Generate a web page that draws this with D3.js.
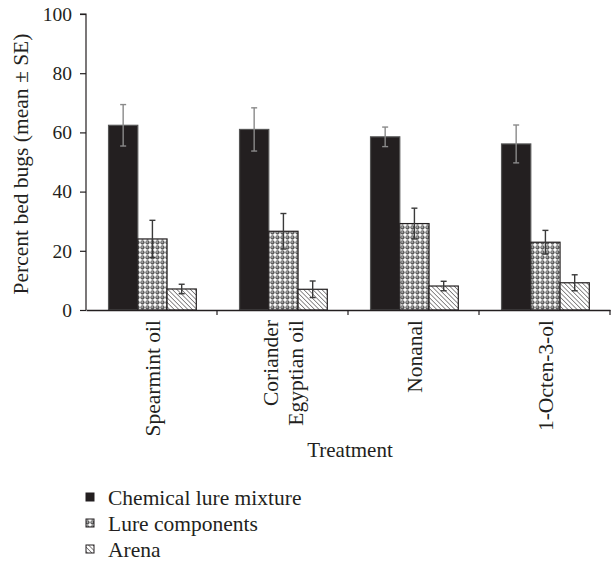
<!DOCTYPE html>
<html><head><meta charset="utf-8">
<script src="https://cdn.jsdelivr.net/npm/d3@7"></script>
<style>body{margin:0;background:#fff}svg{display:block}text{font-family:"Liberation Serif","Times New Roman",serif;fill:#231f20}</style>
</head><body><svg id="c" width="613" height="567"></svg>
<script>
const categories = ["Spearmint oil", "Coriander\nEgyptian oil", "Nonanal", "1-Octen-3-ol"];
const seriesNames = ["Chemical lure mixture", "Lure components", "Arena"];
const mixture = [62.4, 61.0, 58.5, 56.1];
const mixtureSE = [7.0, 7.3, 3.3, 6.4];
const components = [24.0, 26.6, 29.2, 22.9];
const componentsSE = [6.3, 6.0, 5.2, 4.0];
const arena = [7.1, 7.0, 8.1, 9.2];
const arenaSE = [1.6, 2.8, 1.6, 2.7];
const yTicks = [0, 20, 40, 60, 80, 100];

const svg = d3.select("#c");
const defs = svg.append("defs");
const dots = defs.append("pattern").attr("id","dots").attr("patternUnits","userSpaceOnUse").attr("width",5).attr("height",5);
dots.append("rect").attr("width",5).attr("height",5).attr("fill","#fff");
dots.append("circle").attr("cx",2.5).attr("cy",2.5).attr("r",2.15).attr("fill","#5e5e5e");
dots.append("circle").attr("cx",2.1).attr("cy",2.1).attr("r",0.8).attr("fill","#cfcfcf");
const hatch = defs.append("pattern").attr("id","hatch").attr("patternUnits","userSpaceOnUse").attr("width",3.2).attr("height",3.2).attr("patternTransform","rotate(-45)");
hatch.append("rect").attr("width",3.2).attr("height",3.2).attr("fill","#fff");
hatch.append("line").attr("x1",0).attr("y1",0).attr("x2",0).attr("y2",3.2).attr("stroke","#231f20").attr("stroke-width",1);

const fills = ["#231f20","url(#dots)","url(#hatch)"];
const strokes = ["#555","#231f20","#231f20"];
const errColors = ["#8a8a8a","#3a3a3a","#3a3a3a"];
const values = [mixture, components, arena];
const errs = [mixtureSE, componentsSE, arenaSE];

const L = 86, R = 610, T = 14, B = 310;
const x = d3.scaleBand().domain(categories).range([L, R]).padding(0);
const bw = x.bandwidth();
const xs = d3.scaleBand().domain(seriesNames).range([bw*0.172, bw*0.842]).padding(0);
const y = d3.scaleLinear().domain([0,100]).range([B, T]);

seriesNames.forEach((s, si) => {
  const g = svg.append("g");
  categories.forEach((c, ci) => {
    const v = values[si][ci];
    g.append("rect").attr("x", x(c)+xs(s)).attr("y", y(v)).attr("width", xs.bandwidth()).attr("height", y(0)-y(v))
      .attr("fill", fills[si]).attr("stroke", strokes[si]).attr("stroke-width", 1.2);
  });
});
seriesNames.forEach((s, si) => {
  categories.forEach((c, ci) => {
    const v = values[si][ci], e = errs[si][ci];
    const cx = x(c)+xs(s)+xs.bandwidth()/2;
    const g = svg.append("g").attr("stroke", errColors[si]).attr("stroke-width", 1.4);
    g.append("line").attr("x1",cx).attr("x2",cx).attr("y1",y(v+e)).attr("y2",y(v-e));
    g.append("line").attr("x1",cx-3).attr("x2",cx+3).attr("y1",y(v+e)).attr("y2",y(v+e));
    g.append("line").attr("x1",cx-3).attr("x2",cx+3).attr("y1",y(v-e)).attr("y2",y(v-e));
  });
});

const ya = svg.append("g").attr("transform",`translate(${L},0)`)
  .call(d3.axisLeft(y).tickValues(yTicks).tickSize(6).tickPadding(8));
ya.select(".domain").attr("stroke","#231f20").attr("stroke-width",1.2).attr("d",`M-6,${T}H0V${B}`);
ya.selectAll(".tick line").attr("stroke","#231f20").attr("stroke-width",1.2);
ya.selectAll(".tick text").style("font-size","19.5px").attr("fill","#231f20").style("font-family",'"Liberation Serif",serif');

const xa = svg.append("g").attr("transform",`translate(0,${B})`)
  .call(d3.axisBottom(x).tickValues([]).tickSizeOuter(0));
xa.select(".domain").attr("stroke","#231f20").attr("stroke-width",1.4);
const bounds = categories.map(c => x(c)+bw);
xa.selectAll(".bt").data(bounds).enter().append("line").attr("class","bt")
  .attr("x1",d=>d).attr("x2",d=>d).attr("y1",0).attr("y2",5).attr("stroke","#231f20").attr("stroke-width",1.2);

categories.forEach(c => {
  const lines = c.split("\n");
  const cx = x(c)+bw/2;
  lines.forEach((ln, i) => {
    const off = (i - (lines.length-1)/2) * 25;
    svg.append("text").attr("transform",`translate(${cx+off+1},${B+10}) rotate(-90)`)
      .attr("text-anchor","end").attr("dy","0.33em").style("font-size","21.5px").text(ln);
  });
});

svg.append("text").attr("x", (L+R)/2+2).attr("y", 457).attr("text-anchor","middle").style("font-size","21px").text("Treatment");
svg.append("text").attr("transform",`translate(28,${(T+B)/2+2}) rotate(-90)`).attr("text-anchor","middle").style("font-size","21.5px").text("Percent bed bugs (mean ± SE)");

const lg = svg.append("g");
seriesNames.forEach((s, i) => {
  const yy = 497 + i*26;
  lg.append("rect").attr("x",86).attr("y",yy-4).attr("width",8).attr("height",8).attr("fill",fills[i]).attr("stroke","#231f20").attr("stroke-width",1);
  lg.append("text").attr("x",108).attr("y",yy).attr("dy","0.35em").style("font-size","21.5px").text(s);
});
</script></body></html>
